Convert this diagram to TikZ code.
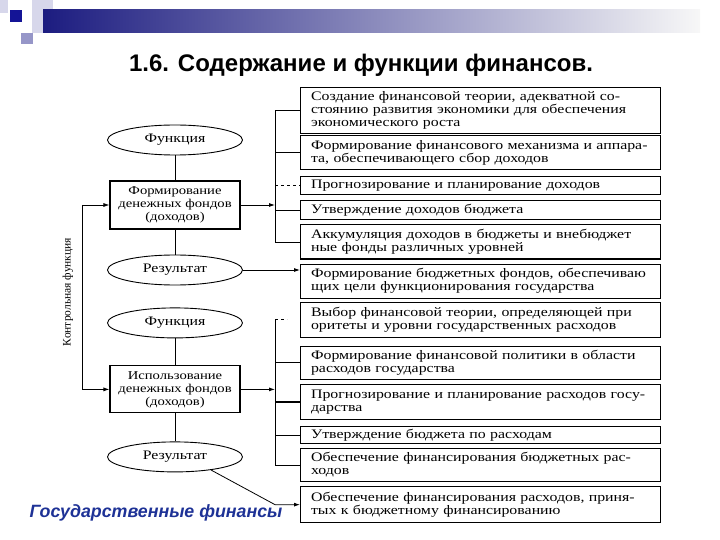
\documentclass[tikz,border=0pt]{standalone}
\usepackage{fontspec}
\setmainfont{Liberation Serif}
\newfontfamily\wideserif[FakeStretch=1.22]{Liberation Serif}
\newfontfamily\headfont{Liberation Sans}
\usetikzlibrary{shapes.geometric,arrows.meta,positioning}
\definecolor{barblue}{RGB}{28,28,128}
\definecolor{sqblue}{RGB}{20,20,150}
\definecolor{sqlight}{RGB}{215,215,235}
\definecolor{sqmid}{RGB}{150,150,200}
\definecolor{footblue}{RGB}{30,50,150}
\tikzset{
  func/.style={ellipse, draw=black, line width=0.9pt, minimum width=135pt, minimum height=30pt, inner sep=1pt},
  stage/.style={rectangle, draw=black, line width=1.1pt, minimum width=130pt, minimum height=48pt, align=center, inner sep=2pt, font=\wideserif\fontsize{12}{13}\selectfont},
  task/.style={rectangle, draw=black, line width=1.1pt, text width=339pt, inner xsep=10.5pt, inner ysep=2pt, minimum height=34pt, align=left},
  arr/.style={-{Latex[length=6pt,width=4pt]}, draw=black, line width=0.8pt},
  link/.style={draw=black, line width=0.8pt},
  title/.style={font=\headfont\bfseries\fontsize{24}{28}\selectfont},
  foot/.style={font=\headfont\bfseries\itshape\fontsize{17.8}{20}\selectfont, text=footblue},
  ctrl/.style={font=\fontsize{11.5}{12}\selectfont, rotate=90},
}

\begin{document}
\begin{tikzpicture}[x=1pt, y=-1pt, node distance=4pt, every node/.style={font=\wideserif\fontsize{13}{13}\selectfont}]
\useasboundingbox (0,0) rectangle (720,540);
% header
\fill[sqlight] (0,0) rectangle (8,13);
\fill[sqlight] (32,0) rectangle (53,22);
\shade[left color=barblue, right color=white!94!gray] (43,10) rectangle (700,33);
\fill[sqblue] (10,10) rectangle (22,22);
\fill[sqlight] (32,22) rectangle (43,33);
\fill[sqmid] (21,33) rectangle (33,44);
\node[title] (head) at (361,65) {1.6. Содержание и функции финансов.};
\node[foot] (tail) at (156,513) {Государственные финансы};
% left column
\node[func] (f1) at (175,140) {Функция};
\node[stage, below=25pt of f1] (b1) {Формирование\\денежных фондов\\(доходов)};
\node[func, below=25pt of b1] (res1) {Результат};
\node[func, below=22pt of res1] (f2) {Функция};
\node[stage, below=27pt of f2, minimum height=47pt] (b2) {Использование\\денежных фондов\\(доходов)};
\node[func, below=28pt of b2] (res2) {Результат};
\draw[link] (f1)--(b1);
\draw[link] (b1)--(res1);
\draw[link] (f2)--(b2);
\draw[link] (b2)--(res2);
% right column
\node[task, anchor=north west, minimum height=46pt] (r1) at (300,87) {Создание финансовой теории, адекватной со-\\стоянию развития экономики для обеспечения\\экономического роста};
\node[task, below=1pt of r1] (r2) {Формирование финансового механизма и аппара-\\та, обеспечивающего сбор доходов};
\node[task, below=6pt of r2, minimum height=18pt] (r3) {Прогнозирование и планирование доходов};
\node[task, below=5pt of r3, minimum height=19pt] (r4) {Утверждение доходов бюджета};
\node[task, below=of r4] (r5) {Аккумуляция доходов в бюджеты и внебюджет\\ные фонды различных уровней};
\node[task, below=of r5] (r6) {Формирование бюджетных фондов, обеспечиваю\\щих цели функционирования государства};
\node[task, below=3pt of r6, minimum height=35pt] (r7) {Выбор финансовой теории, определяющей при\\оритеты и уровни государственных расходов};
\node[task, below=8pt of r7, minimum height=33pt] (r8) {Формирование финансовой политики в области\\расходов государства};
\node[task, below=of r8, minimum height=35pt] (r9) {Прогнозирование и планирование расходов госу-\\дарства};
\node[task, below=6pt of r9, minimum height=17pt] (r10) {Утверждение бюджета по расходам};
\node[task, below=of r10, minimum height=33pt] (r11) {Обеспечение финансирования бюджетных рас-\\ходов};
\node[task, below=of r11, minimum height=36pt] (r12) {Обеспечение финансирования расходов, приня-\\тых к бюджетному финансированию};
% buses
\coordinate (bx) at (275,0);
\coordinate (kx) at (82,0);
\draw[link] (r1.west -| bx) -- (r5.west -| bx);
\foreach \n in {r1,r4,r5}
  \draw[link] (\n.west -| bx) -- (\n.west);
\draw[link, line width=1.5pt] (r2.west -| bx) -- (r2.west);
\draw[link, dashed] (r3.west -| bx) -- (r3.west);
\draw[arr] (b1.east) -- (b1.east -| bx);
\draw[arr] (res1.east) -- (res1.east -| r6.west);
\draw[link] (r7.west -| bx) -- (r11.west -| bx);
\draw[link, dashed] (r7.west -| bx) -- ++(12,0) coordinate (stub);
\foreach \n in {r8,r10,r11}
  \draw[link] (\n.west -| bx) -- (\n.west);
\draw[link, line width=1.5pt] (r9.west -| bx) -- (r9.west);
\draw[arr] (b2.east) -- (b2.east -| bx);
\draw[arr] (res2.-20) -- (r12.west -| bx) -- (r12.west);
% control loop
\draw[arr] (b1.west -| kx) -- (b1.west);
\draw[arr] (b1.west -| kx) -- (b2.west -| kx) -- (b2.west);
\node[ctrl] (kf) at (68,292) {Контрольная функция};
\end{tikzpicture}
\end{document}
